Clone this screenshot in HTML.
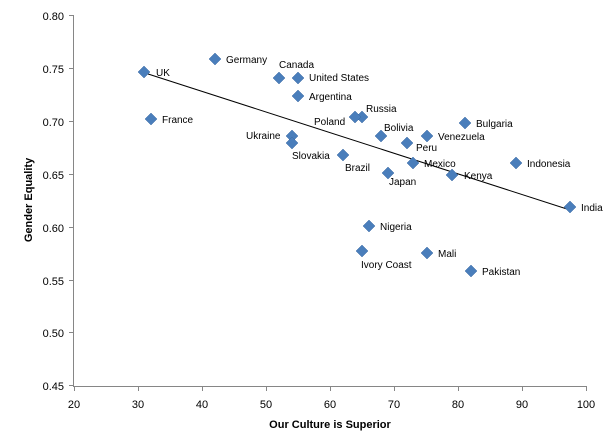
<!DOCTYPE html>
<html><head><meta charset="utf-8"><style>html,body{margin:0;padding:0;background:#fff}svg{display:block}text{font-family:"Liberation Sans",sans-serif;font-size:10px;fill:#000}</style></head><body>
<svg width="612" height="448" viewBox="0 0 612 448" xmlns="http://www.w3.org/2000/svg">
<defs><path id="d" d="M0,-6L6,0L0,6L-6,0Z" fill="#4a7ebb" stroke="#3b6aa3" stroke-width="0.5"/></defs>
<g stroke="#868686" stroke-width="1" fill="none">
<path d="M73.5,15.5V386.5H587"/>
<path d="M69,15.5h5M69,68.5h5M69,121.5h5M69,174.5h5M69,227.5h5M69,280.5h5M69,332.5h5M69,385.5h5"/>
<path d="M74.5,386v5M138.5,386v5M202.5,386v5M266.5,386v5M330.5,386v5M394.5,386v5M458.5,386v5M522.5,386v5M586.5,386v5"/>
</g>
<g text-anchor="end" font-size="11">
<text x="64" y="20" style="font-size:11px">0.80</text><text x="64" y="73" style="font-size:11px">0.75</text><text x="64" y="126" style="font-size:11px">0.70</text><text x="64" y="179" style="font-size:11px">0.65</text><text x="64" y="232" style="font-size:11px">0.60</text><text x="64" y="285" style="font-size:11px">0.55</text><text x="64" y="337" style="font-size:11px">0.50</text><text x="64" y="390" style="font-size:11px">0.45</text>
</g>
<g text-anchor="middle">
<text x="74" y="408" style="font-size:11px">20</text><text x="138" y="408" style="font-size:11px">30</text><text x="202" y="408" style="font-size:11px">40</text><text x="266" y="408" style="font-size:11px">50</text><text x="330" y="408" style="font-size:11px">60</text><text x="394" y="408" style="font-size:11px">70</text><text x="458" y="408" style="font-size:11px">80</text><text x="522" y="408" style="font-size:11px">90</text><text x="586" y="408" style="font-size:11px">100</text>
<text x="330" y="428" style="font-size:11px;font-weight:bold">Our Culture is Superior</text>
<text transform="translate(32,200) rotate(-90)" style="font-size:11px;font-weight:bold">Gender Equality</text>
</g>
<line x1="145" y1="73" x2="570" y2="210" stroke="#000" stroke-width="1"/>
<use href="#d" x="144" y="72"/><use href="#d" x="215" y="59"/><use href="#d" x="279" y="78"/><use href="#d" x="298" y="78"/><use href="#d" x="298" y="96"/><use href="#d" x="151" y="119"/><use href="#d" x="362" y="117"/><use href="#d" x="355" y="117"/><use href="#d" x="381" y="136"/><use href="#d" x="465" y="123"/><use href="#d" x="427" y="136"/><use href="#d" x="407" y="143"/><use href="#d" x="292" y="136"/><use href="#d" x="292" y="143"/><use href="#d" x="343" y="155"/><use href="#d" x="413" y="163"/><use href="#d" x="388" y="173"/><use href="#d" x="452" y="175"/><use href="#d" x="516" y="163"/><use href="#d" x="570" y="207"/><use href="#d" x="369" y="226"/><use href="#d" x="362" y="251"/><use href="#d" x="427" y="253"/><use href="#d" x="471" y="271"/>
<g>
<text x="156" y="76">UK</text><text x="226" y="63">Germany</text><text x="279" y="68">Canada</text><text x="309" y="81">United States</text><text x="309" y="100">Argentina</text><text x="162" y="123">France</text><text x="366" y="112">Russia</text><text x="314" y="125">Poland</text><text x="384" y="131">Bolivia</text><text x="476" y="127">Bulgaria</text><text x="438" y="140">Venezuela</text><text x="416" y="151">Peru</text><text x="246" y="139">Ukraine</text><text x="292" y="159">Slovakia</text><text x="345" y="171">Brazil</text><text x="424" y="167">Mexico</text><text x="389" y="185">Japan</text><text x="464" y="179">Kenya</text><text x="527" y="167">Indonesia</text><text x="581" y="211">India</text><text x="380" y="230">Nigeria</text><text x="361" y="268">Ivory Coast</text><text x="438" y="257">Mali</text><text x="482" y="275">Pakistan</text>
</g>
</svg>
</body></html>
